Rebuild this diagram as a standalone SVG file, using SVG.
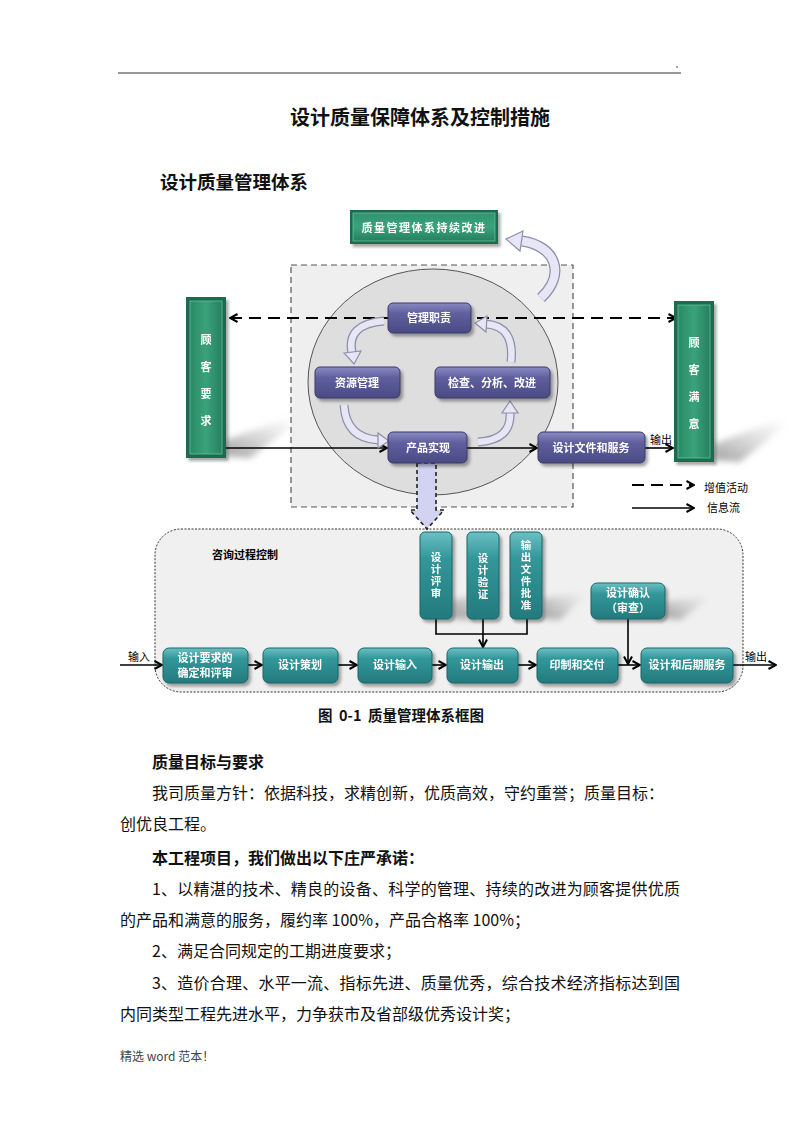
<svg xmlns="http://www.w3.org/2000/svg" width="800" height="1132" viewBox="0 0 800 1132">
<style>
.cjk{font-family:"Noto Sans CJK SC","Liberation Sans",sans-serif}
.lbl{font-family:"Noto Sans CJK SC","Liberation Sans",sans-serif;font-size:11px;font-weight:bold;fill:#fff;text-anchor:middle}
.vt{font-family:"Noto Sans CJK SC","Liberation Sans",sans-serif;font-size:10.5px;font-weight:bold;fill:#fff;text-anchor:middle;writing-mode:tb;letter-spacing:1.5px}
.blk{font-family:"Noto Sans CJK SC","Liberation Sans",sans-serif;font-size:11px;fill:#000}
.body{font-family:"Noto Sans CJK SC","Liberation Sans",sans-serif;font-size:16px;fill:#111}
.pur{fill:url(#gPur);stroke:#3a3a68;stroke-width:1}
.teal{fill:url(#gTeal);stroke:#1c6466;stroke-width:1}
.ln{fill:none;stroke:#000;stroke-width:1.6}
.cv1{fill:none;stroke:#8e8ea8;stroke-width:9}
.cv2{fill:none;stroke:#e6e6f6;stroke-width:6.5}
.cvh{fill:#e6e6f6;stroke:#8e8ea8;stroke-width:1.2}
</style>
<defs>
<linearGradient id="gPur" x1="0" y1="0" x2="0" y2="1">
<stop offset="0" stop-color="#8a8ac2"/><stop offset="0.35" stop-color="#5f5f9e"/><stop offset="1" stop-color="#4a4a84"/>
</linearGradient>
<linearGradient id="gTeal" x1="0" y1="0" x2="0" y2="1">
<stop offset="0" stop-color="#6cc0c2"/><stop offset="0.3" stop-color="#33979a"/><stop offset="1" stop-color="#237a7d"/>
</linearGradient>
<linearGradient id="gGreenH" x1="0" y1="0" x2="1" y2="0">
<stop offset="0" stop-color="#2a8a66"/><stop offset="0.5" stop-color="#3aa27c"/><stop offset="1" stop-color="#268060"/>
</linearGradient>
<linearGradient id="gGreenV" x1="0" y1="0" x2="0" y2="1">
<stop offset="0" stop-color="#2f9470"/><stop offset="0.5" stop-color="#3aa27c"/><stop offset="1" stop-color="#268060"/>
</linearGradient>
<linearGradient id="gShadow" x1="0" y1="1" x2="1" y2="0">
<stop offset="0" stop-color="#888" stop-opacity="0.8"/><stop offset="1" stop-color="#bbb" stop-opacity="0"/>
</linearGradient>
<filter id="sh" x="-20%" y="-20%" width="150%" height="160%">
<feDropShadow dx="2.5" dy="3" stdDeviation="1.8" flood-color="#000" flood-opacity="0.35"/>
</filter>
<filter id="blur" x="-20%" y="-20%" width="140%" height="140%"><feGaussianBlur stdDeviation="3"/></filter>
<marker id="ah" viewBox="0 0 10 10" refX="9" refY="5" markerWidth="10" markerHeight="10" markerUnits="userSpaceOnUse" orient="auto-start-reverse">
<path d="M1.5,1 L9,5 L1.5,9" fill="none" stroke="#000" stroke-width="2"/>
</marker>
</defs>

<rect width="800" height="1132" fill="#fff"/>

<!-- page header -->
<line x1="118" y1="73" x2="681" y2="73" stroke="#333" stroke-width="1"/>
<circle cx="677" cy="67" r="0.8" fill="#333"/>
<text class="cjk" x="420" y="125" font-size="20" font-weight="bold" text-anchor="middle" fill="#111">设计质量保障体系及控制措施</text>
<text class="cjk" x="160" y="189" font-size="18.5" font-weight="bold" fill="#111">设计质量管理体系</text>

<!-- backgrounds -->
<g id="background">
<rect x="291" y="265" width="282" height="242" fill="#efefef" stroke="#555" stroke-width="1.2" stroke-dasharray="6 4"/>
<ellipse cx="433" cy="382" rx="125" ry="113" fill="#dedede" stroke="#555" stroke-width="1"/>
<rect x="155" y="529" width="588" height="163" rx="26" ry="26" fill="#f0f0f0" stroke="#333" stroke-width="1" stroke-dasharray="2 1.5"/>
<polygon points="226,456 226,440 282,420 300,420 250,458" fill="url(#gShadow)" filter="url(#blur)"/>
<polygon points="714,460 714,444 772,422 790,422 740,462" fill="url(#gShadow)" filter="url(#blur)"/>
<polygon points="452,618 452,600 500,590 515,590 470,620" fill="url(#gShadow)" filter="url(#blur)"/>
<polygon points="542,618 542,598 585,592 580,600 560,620" fill="url(#gShadow)" filter="url(#blur)"/>
<polygon points="665,618 665,602 700,596 710,598 680,620" fill="url(#gShadow)" filter="url(#blur)"/>
</g>

<!-- connectors -->
<g id="connectors">
<line x1="230" y1="318" x2="676" y2="318" stroke="#000" stroke-width="2" stroke-dasharray="12 7" marker-start="url(#ah)" marker-end="url(#ah)"/>
<line class="ln" x1="226" y1="448" x2="387" y2="448" marker-end="url(#ah)"/>
<line class="ln" x1="467" y1="448" x2="537" y2="448" marker-end="url(#ah)"/>
<line class="ln" x1="645" y1="448" x2="673" y2="448" marker-end="url(#ah)"/>
<line x1="632" y1="485" x2="694" y2="485" stroke="#000" stroke-width="2" stroke-dasharray="12 7" marker-end="url(#ah)"/>
<line class="ln" x1="632" y1="508" x2="694" y2="508" marker-end="url(#ah)"/>
<path class="cv1" d="M384,321 Q346,324 352,353"/><path class="cv2" d="M384,321 Q346,324 352,353"/>
<polygon class="cvh" points="344,353 361,351 354,364"/>
<path class="cv1" d="M344,405 Q346,438 378,440"/><path class="cv2" d="M344,405 Q346,438 378,440"/>
<polygon class="cvh" points="378,433 378,448 389,441"/>
<path class="cv1" d="M478,442 Q512,440 510,412"/><path class="cv2" d="M478,442 Q512,440 510,412"/>
<polygon class="cvh" points="502,413 518,413 510,401"/>
<path class="cv1" d="M511,362 Q515,326 486,324"/><path class="cv2" d="M511,362 Q515,326 486,324"/>
<polygon class="cvh" points="487,316 486,332 475,323"/>
<path fill="none" stroke="#8e8ea8" stroke-width="11" d="M541,298 C566,274 556,246 522,241"/>
<path fill="none" stroke="#e6e6f6" stroke-width="8.5" d="M541,298 C566,274 556,246 522,241"/>
<polygon class="cvh" points="523,231 520,251 506,239"/>
<polygon points="417,463 436,463 436,510 444,510 427,529 410,510 417,510" fill="#d2d2f2" stroke="#222" stroke-width="1.6" stroke-dasharray="4 3"/>
<line class="ln" x1="120" y1="665" x2="162" y2="665" marker-end="url(#ah)"/>
<line class="ln" x1="248" y1="665" x2="262" y2="665" marker-end="url(#ah)"/>
<line class="ln" x1="338" y1="665" x2="357" y2="665" marker-end="url(#ah)"/>
<line class="ln" x1="432" y1="665" x2="446" y2="665" marker-end="url(#ah)"/>
<line class="ln" x1="518" y1="665" x2="536" y2="665" marker-end="url(#ah)"/>
<line class="ln" x1="618" y1="665" x2="640" y2="665" marker-end="url(#ah)"/>
<line class="ln" x1="733" y1="665" x2="776" y2="665" marker-end="url(#ah)"/>
<polyline class="ln" points="436,619 436,634 527,634 527,619"/>
<line class="ln" x1="483" y1="619" x2="483" y2="647" marker-end="url(#ah)"/>
<line class="ln" x1="628" y1="619" x2="628" y2="664" marker-end="url(#ah)"/>
</g>

<!-- labels on connectors -->
<text class="blk" x="650" y="444">输出</text>
<text class="blk" x="704" y="492">增值活动</text>
<text class="blk" x="707" y="512">信息流</text>
<text class="blk" x="128" y="661">输入</text>
<text class="blk" x="745" y="661">输出</text>
<text class="blk" x="212" y="559" font-weight="bold">咨询过程控制</text>

<!-- nodes -->
<g id="n-improve" filter="url(#sh)">
<rect x="350" y="210" width="148" height="34" fill="#1d6b4f"/>
<rect x="353" y="213" width="142" height="28" fill="url(#gGreenV)" stroke="#5cc59a" stroke-width="0.8"/>
<text class="lbl" x="424" y="232" letter-spacing="1.5">质量管理体系持续改进</text>
</g>
<g id="n-req" filter="url(#sh)">
<rect x="186" y="297" width="40" height="161" fill="#1d6b4f"/>
<rect x="190" y="301" width="32" height="153" fill="url(#gGreenH)" stroke="#5cc59a" stroke-width="0.8"/>
<text class="lbl" x="206" y="344"><tspan x="206">顾</tspan><tspan x="206" dy="27">客</tspan><tspan x="206" dy="27">要</tspan><tspan x="206" dy="27">求</tspan></text>
</g>
<g id="n-sat" filter="url(#sh)">
<rect x="674" y="301" width="40" height="161" fill="#1d6b4f"/>
<rect x="678" y="305" width="32" height="153" fill="url(#gGreenH)" stroke="#5cc59a" stroke-width="0.8"/>
<text class="lbl" x="694" y="347"><tspan x="694">顾</tspan><tspan x="694" dy="27">客</tspan><tspan x="694" dy="27">满</tspan><tspan x="694" dy="27">意</tspan></text>
</g>
<g id="n-mgmt" filter="url(#sh)">
<rect class="pur" x="388" y="303" width="83" height="30" rx="5"/>
<text class="lbl" x="429" y="322">管理职责</text>
</g>
<g id="n-res" filter="url(#sh)">
<rect class="pur" x="315" y="367" width="85" height="31" rx="5"/>
<text class="lbl" x="357" y="387">资源管理</text>
</g>
<g id="n-check" filter="url(#sh)">
<rect class="pur" x="435" y="367" width="115" height="31" rx="5"/>
<text class="lbl" x="492" y="387">检查、分析、改进</text>
</g>
<g id="n-prod" filter="url(#sh)">
<rect class="pur" x="388" y="432" width="79" height="31" rx="5"/>
<text class="lbl" x="428" y="452">产品实现</text>
</g>
<g id="n-docs" filter="url(#sh)">
<rect class="pur" x="538" y="432" width="107" height="31" rx="5"/>
<text class="lbl" x="591" y="452">设计文件和服务</text>
</g>

<g id="n-review" filter="url(#sh)">
<rect class="teal" x="420" y="532" width="32" height="87" rx="5"/>
<text class="vt" x="436" y="576">设计评审</text>
</g>
<g id="n-verify" filter="url(#sh)">
<rect class="teal" x="467" y="532" width="32" height="87" rx="5"/>
<text class="vt" x="483" y="577">设计验证</text>
</g>
<g id="n-approve" filter="url(#sh)">
<rect class="teal" x="510" y="532" width="32" height="87" rx="5"/>
<text class="vt" x="526" y="576" letter-spacing="2">输出文件批准</text>
</g>
<g id="n-confirm" filter="url(#sh)">
<rect class="teal" x="591" y="583" width="74" height="36" rx="6"/>
<text class="lbl" font-size="10" x="628" y="597"><tspan x="628">设计确认</tspan><tspan x="628" dy="15">（审查）</tspan></text>
</g>
<g id="n-b1" filter="url(#sh)">
<rect class="teal" x="163" y="648" width="85" height="35" rx="6"/>
<text class="lbl" font-size="10.3" x="205" y="662"><tspan x="205">设计要求的</tspan><tspan x="205" dy="15">确定和评审</tspan></text>
</g>
<g id="n-b2" filter="url(#sh)">
<rect class="teal" x="263" y="648" width="75" height="35" rx="6"/>
<text class="lbl" font-size="10.5" x="300" y="669">设计策划</text>
</g>
<g id="n-b3" filter="url(#sh)">
<rect class="teal" x="358" y="648" width="74" height="35" rx="6"/>
<text class="lbl" font-size="10.5" x="395" y="669">设计输入</text>
</g>
<g id="n-b4" filter="url(#sh)">
<rect class="teal" x="447" y="648" width="71" height="35" rx="6"/>
<text class="lbl" font-size="10.5" x="482" y="669">设计输出</text>
</g>
<g id="n-b5" filter="url(#sh)">
<rect class="teal" x="537" y="648" width="81" height="35" rx="6"/>
<text class="lbl" font-size="10.5" x="577" y="669">印制和交付</text>
</g>
<g id="n-b6" filter="url(#sh)">
<rect class="teal" x="641" y="648" width="92" height="35" rx="6"/>
<text class="lbl" font-size="10.5" x="687" y="669">设计和后期服务</text>
</g>

<!-- caption and body text -->
<text class="cjk" x="401" y="721" font-size="14.5" font-weight="bold" text-anchor="middle" fill="#111" style="white-space:pre">图  0-1  质量管理体系框图</text>
<text class="body" x="152" y="768" font-weight="bold">质量目标与要求</text>
<text class="body" x="152" y="799">我司质量方针：依据科技，求精创新，优质高效，守约重誉；质量目标：</text>
<text class="body" x="120" y="830">创优良工程。</text>
<text class="body" x="152" y="864" font-weight="bold">本工程项目，我们做出以下庄严承诺：</text>
<text class="body" x="152" y="895" textLength="528" lengthAdjust="spacing">1、以精湛的技术、精良的设备、科学的管理、持续的改进为顾客提供优质</text>
<text class="body" x="120" y="926">的产品和满意的服务，履约率 100%，产品合格率 100%；</text>
<text class="body" x="152" y="957">2、满足合同规定的工期进度要求；</text>
<text class="body" x="152" y="989" textLength="528" lengthAdjust="spacing">3、造价合理、水平一流、指标先进、质量优秀，综合技术经济指标达到国</text>
<text class="body" x="120" y="1020">内同类型工程先进水平，力争获市及省部级优秀设计奖；</text>
<text class="cjk" x="120" y="1061" font-size="12" fill="#444">精选 word 范本！</text>
</svg>
